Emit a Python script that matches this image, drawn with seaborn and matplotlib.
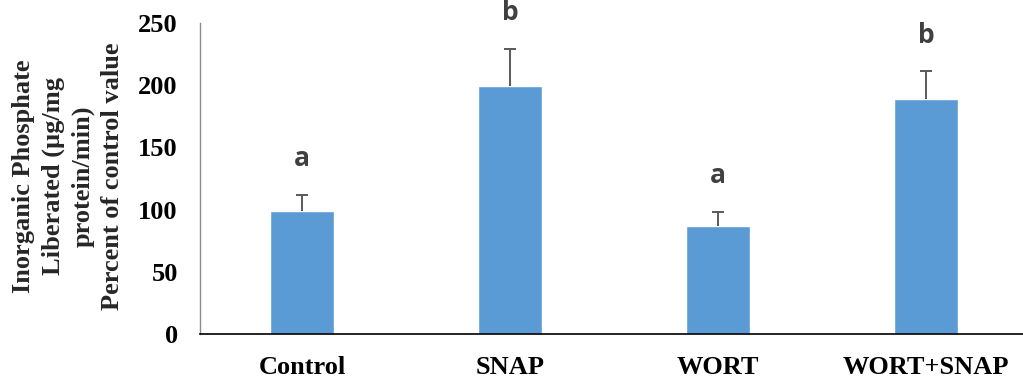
import matplotlib
matplotlib.use("Agg")
import matplotlib.pyplot as plt
import seaborn as sns
import pandas as pd

# Inorganic phosphate liberated, expressed as percent of control
categories = ["Control", "SNAP", "WORT", "WORT+SNAP"]
means = [99, 199, 87, 189]
errors = [13, 30, 11, 22]
letters = ["a", "b", "a", "b"]
y_ticks = [0, 50, 100, 150, 200, 250]

sns.set_style("white")
plt.rcParams["font.family"] = ["Liberation Serif", "DejaVu Serif"]

df = pd.DataFrame({"group": categories, "value": means})

fig = plt.figure(figsize=(10.23, 3.82), dpi=100)
ax = fig.add_axes([0.1955, 0.1257, 0.8045, 0.8143])

bar_color = "#5B9BD5"
sns.barplot(data=df, x="group", y="value", color=bar_color, saturation=1,
            width=0.31, errorbar=None, ax=ax)

# upper-only error bars
xs = list(range(len(categories)))
eb = ax.errorbar(xs, means, yerr=[[0] * len(errors), errors], fmt="none",
                 ecolor="#595959", elinewidth=1.4, capsize=4, capthick=1.4)
caplines = eb.lines[1]
if len(caplines) > 1:
    caplines[0].set_visible(False)

for x, m, e, lab in zip(xs, means, errors, letters):
    ax.annotate(lab, xy=(x, m + e), xytext=(0, 26), textcoords="offset points",
                ha="center", va="center", fontsize=19, fontweight="bold",
                color="#404040", family=["Open Sans", "DejaVu Sans"],
                annotation_clip=False)

ax.set_ylim(0, 250)
ax.set_xlim(-0.49, 3.466)
ax.set_yticks(y_ticks)
ax.set_yticklabels([str(t) for t in y_ticks])
ax.tick_params(axis="y", length=0, pad=16, labelsize=19)
ax.tick_params(axis="x", length=0, pad=16, labelsize=19)
for lbl in ax.get_xticklabels() + ax.get_yticklabels():
    lbl.set_fontweight("bold")
    lbl.set_color("black")

ax.set_xlabel("")
ax.set_ylabel("")
sns.despine(ax=ax, top=True, right=True)
ax.spines["left"].set_color("#8c8c8c")
ax.spines["left"].set_linewidth(1.0)
ax.spines["bottom"].set_color("black")
ax.spines["bottom"].set_linewidth(1.2)

fig.text(68 / 1023, 0.539,
         "Inorganic Phosphate\nLiberated (\u00b5g/mg\nprotein/min)\nPercent of control value",
         rotation=90, ha="center", va="center", fontsize=19, fontweight="bold",
         linespacing=1.35, multialignment="center")

fig.savefig("out.png", dpi=100)
